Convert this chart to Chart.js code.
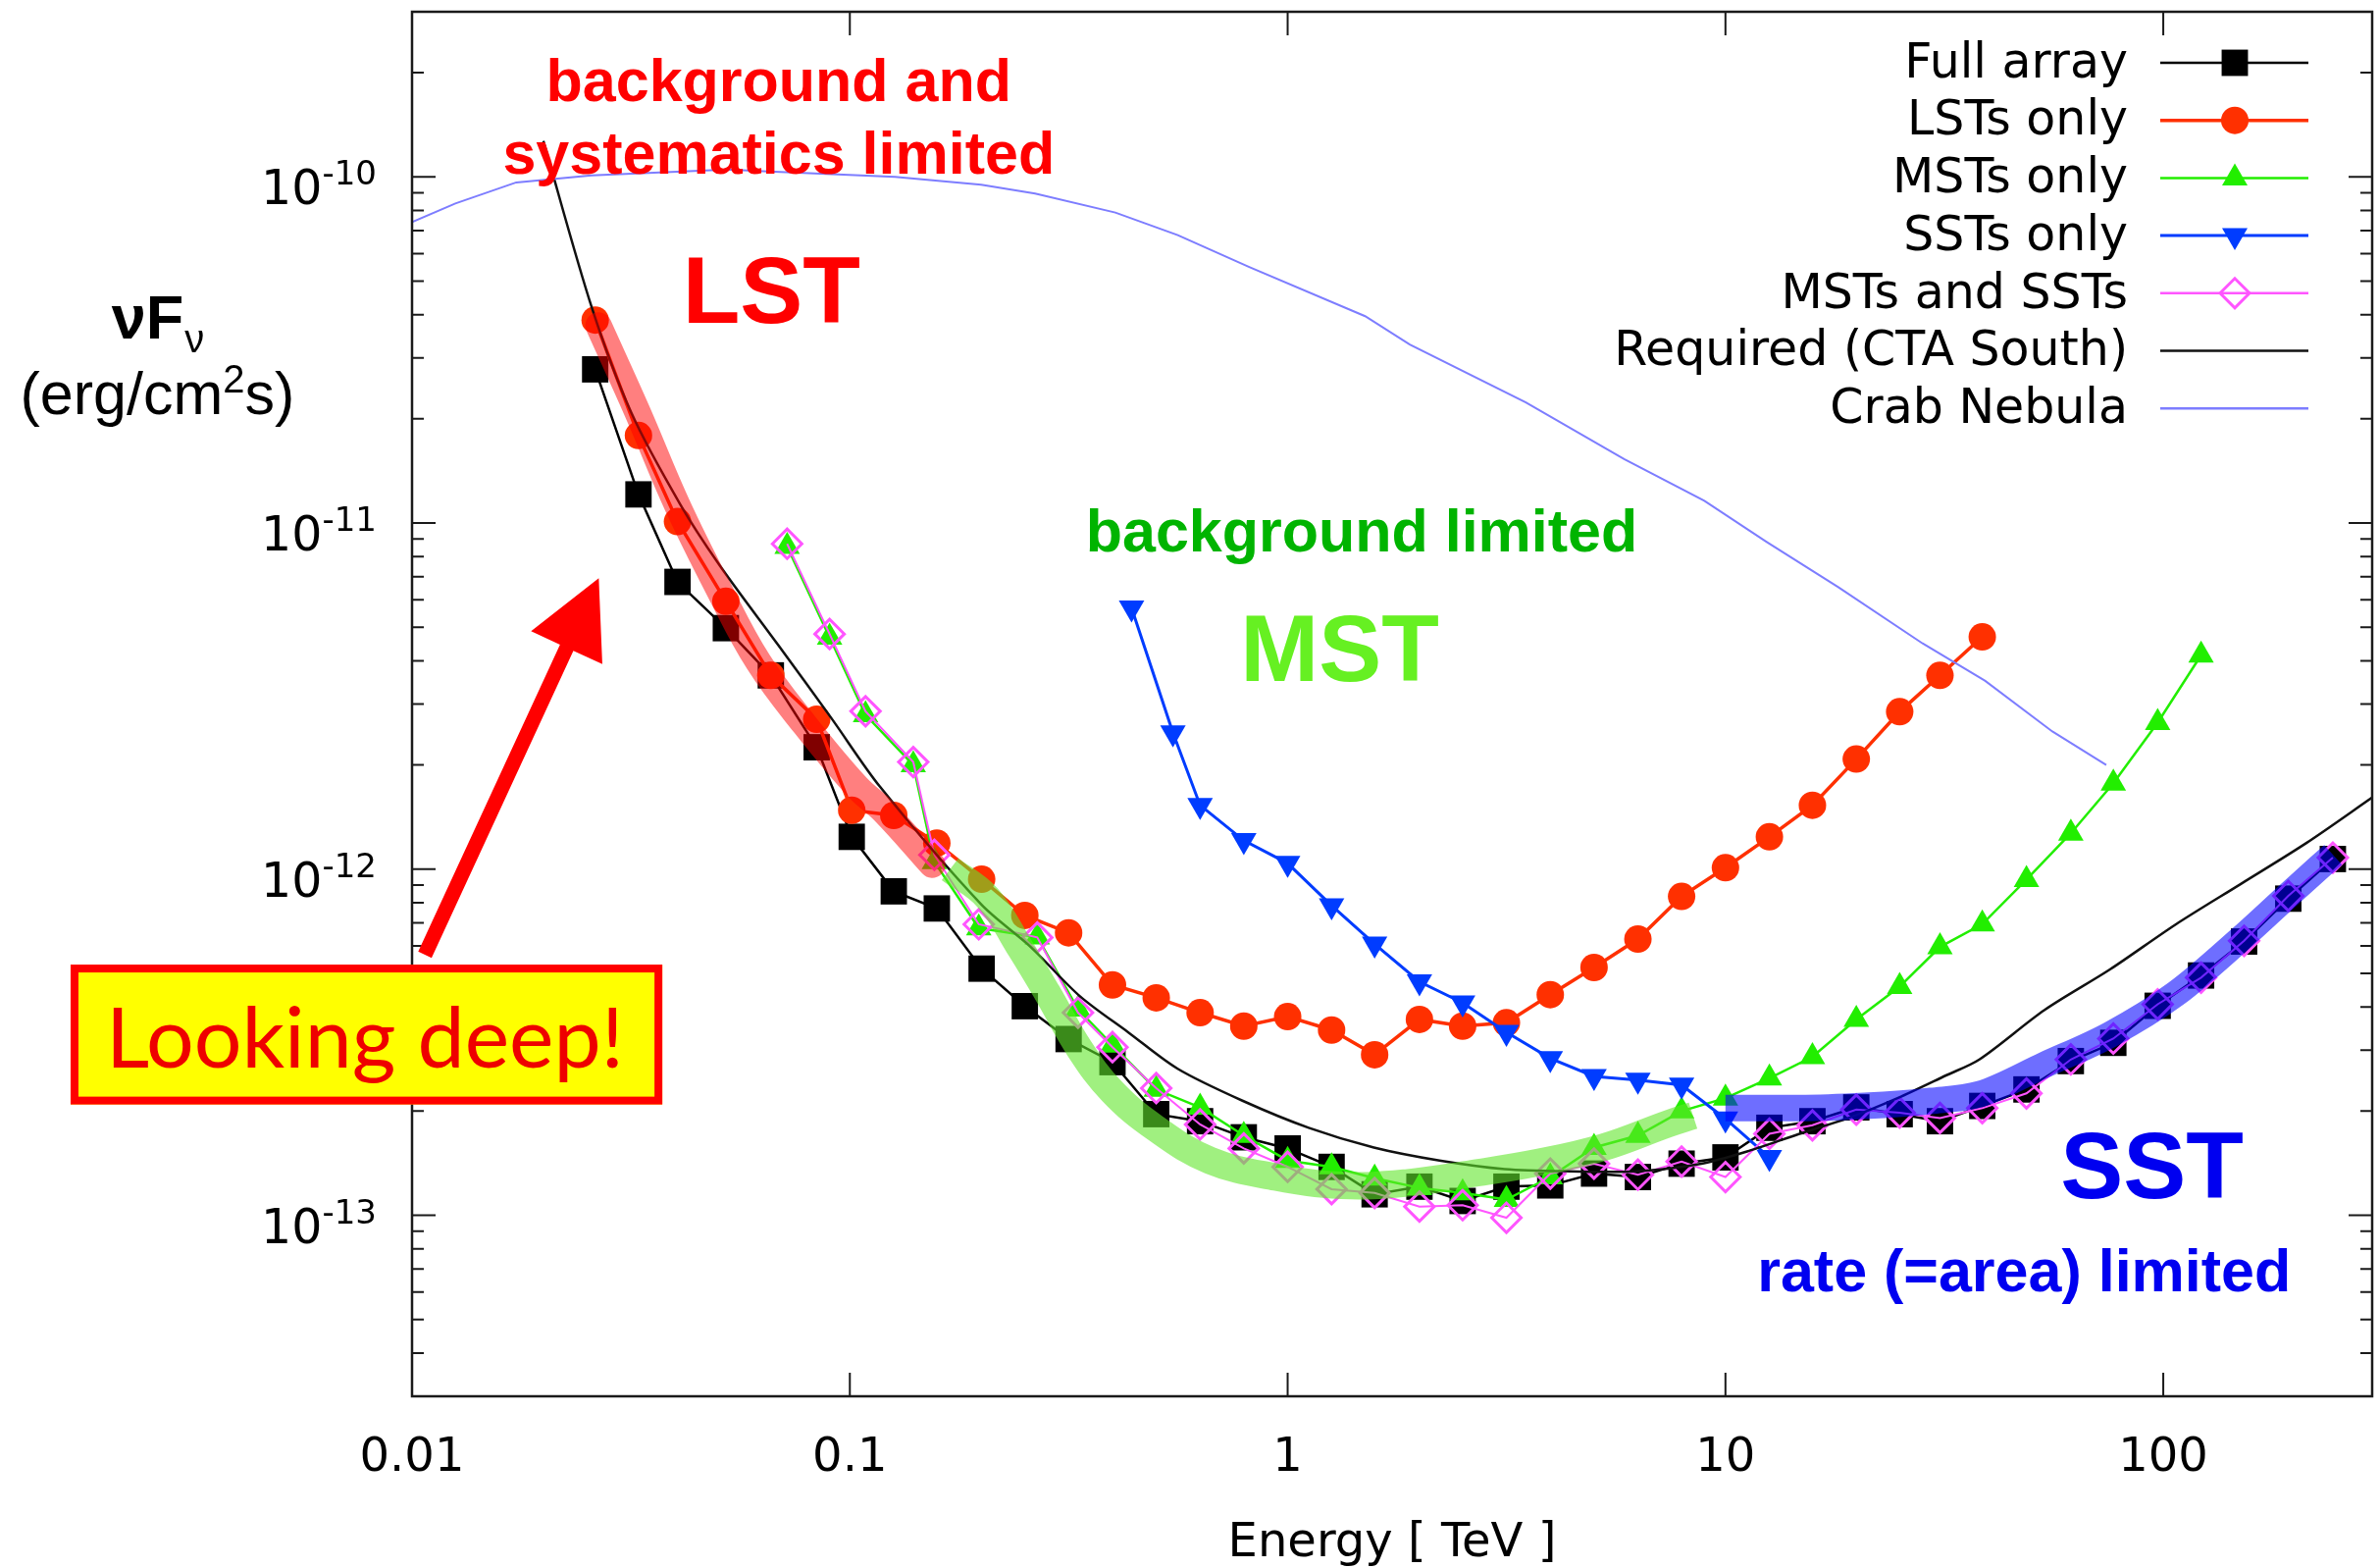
<!DOCTYPE html>
<html>
<head>
<meta charset="utf-8">
<style>
  html, body { margin: 0; padding: 0; background: #ffffff; }
  canvas { display: block; }
</style>
<script src="https://cdn.jsdelivr.net/npm/chart.js@4.4.1/dist/chart.umd.min.js"></script>
</head>
<body>
<canvas id="c" width="2426" height="1598"></canvas>
<script>
// ---------------- DATA ----------------
// Energies in TeV, fluxes nuFnu in erg/cm^2/s
const xMin = 0.01, xMax = 300;
const yMin = 3e-14, yMax = 3e-10;

const xTickValues = [0.01, 0.1, 1, 10, 100];
const xTickLabels = ['0.01', '0.1', '1', '10', '100'];
const yTickValues = [1e-13, 1e-12, 1e-11, 1e-10];
const yTickBase = ['10', '10', '10', '10'];
const yTickExponents = ['-13', '-12', '-11', '-10'];

const fullArrayE = [0.0262, 0.0329, 0.0404, 0.0521, 0.0660, 0.0840, 0.101, 0.126, 0.158, 0.200,
  0.251, 0.316, 0.398, 0.501, 0.631, 0.794, 1.00, 1.26, 1.58, 2.00,
  2.51, 3.16, 3.98, 5.01, 6.31, 7.94, 10.0, 12.6, 15.8, 19.9,
  25.0, 30.9, 38.6, 48.7, 61.5, 76.9, 97.1, 122, 153, 193, 244];
const fullArrayF = [2.78e-11, 1.21e-11, 6.76e-12, 4.97e-12, 3.63e-12, 2.25e-12, 1.24e-12, 8.63e-13, 7.7e-13, 5.16e-13,
  4.02e-13, 3.23e-13, 2.77e-13, 1.96e-13, 1.87e-13, 1.68e-13, 1.56e-13, 1.38e-13, 1.15e-13, 1.21e-13,
  1.10e-13, 1.21e-13, 1.22e-13, 1.32e-13, 1.29e-13, 1.41e-13, 1.47e-13, 1.79e-13, 1.87e-13, 2.05e-13,
  1.96e-13, 1.87e-13, 2.07e-13, 2.31e-13, 2.79e-13, 3.15e-13, 4.03e-13, 4.93e-13, 6.18e-13, 8.22e-13, 1.07e-12];

const lstE = [0.0262, 0.0329, 0.0404, 0.0521, 0.0660, 0.0840, 0.101, 0.126, 0.158, 0.200,
  0.251, 0.316, 0.398, 0.501, 0.631, 0.794, 1.00, 1.26, 1.58, 2.00,
  2.51, 3.16, 3.98, 5.01, 6.31, 7.94, 10.0, 12.6, 15.8, 19.9,
  25.0, 30.9, 38.6];
const lstF = [3.86e-11, 1.79e-11, 1.01e-11, 5.94e-12, 3.63e-12, 2.71e-12, 1.48e-12, 1.43e-12, 1.19e-12, 9.35e-13,
  7.35e-13, 6.55e-13, 4.63e-13, 4.25e-13, 3.85e-13, 3.52e-13, 3.75e-13, 3.43e-13, 2.91e-13, 3.68e-13,
  3.52e-13, 3.60e-13, 4.34e-13, 5.20e-13, 6.28e-13, 8.34e-13, 1.01e-12, 1.24e-12, 1.53e-12, 2.08e-12,
  2.85e-12, 3.63e-12, 4.69e-12];

const mstE = [0.0719, 0.0899, 0.1086, 0.1396, 0.156, 0.197, 0.268, 0.332,
  0.398, 0.501, 0.631, 0.794, 1.00, 1.26, 1.58, 2.00, 2.51, 3.16, 3.98, 5.01,
  6.31, 7.94, 10.0, 12.6, 15.8, 19.9, 25.0, 30.9, 38.6, 48.7, 61.5, 76.9, 97.1, 122];
const mstF = [8.55e-12, 4.68e-12, 2.79e-12, 2.0e-12, 1.05e-12, 6.76e-13, 6.37e-13, 3.94e-13,
  3.10e-13, 2.31e-13, 2.05e-13, 1.70e-13, 1.44e-13, 1.38e-13, 1.28e-13, 1.20e-13, 1.16e-13, 1.11e-13, 1.29e-13, 1.57e-13,
  1.70e-13, 2.0e-13, 2.18e-13, 2.49e-13, 2.87e-13, 3.68e-13, 4.58e-13, 5.96e-13, 6.94e-13, 9.33e-13, 1.27e-12, 1.77e-12, 2.65e-12, 4.15e-12];

const sstE = [0.440, 0.547, 0.631, 0.794, 1.00, 1.26, 1.58, 2.00, 2.51, 3.16, 3.98, 5.01, 6.31, 7.94, 10.0, 12.6];
const sstF = [5.69e-12, 2.48e-12, 1.53e-12, 1.21e-12, 1.04e-12, 7.85e-13, 6.08e-13, 4.73e-13,
  4.11e-13, 3.38e-13, 2.84e-13, 2.52e-13, 2.46e-13, 2.38e-13, 1.90e-13, 1.47e-13];

const mstSstE = [0.0719, 0.0899, 0.1086, 0.1396, 0.156, 0.197, 0.268, 0.332,
  0.398, 0.501, 0.631, 0.794, 1.00, 1.26, 1.58, 2.00, 2.51, 3.16, 3.98, 5.01,
  6.31, 7.94, 10.0, 12.6, 15.8, 19.9, 25.0, 30.9, 38.6, 48.7, 61.5, 76.9, 97.1, 122, 153, 193, 244];
const mstSstF = [8.71e-12, 4.78e-12, 2.86e-12, 2.04e-12, 1.10e-12, 6.93e-13, 6.35e-13, 3.85e-13,
  3.06e-13, 2.33e-13, 1.83e-13, 1.56e-13, 1.38e-13, 1.19e-13, 1.16e-13, 1.06e-13, 1.07e-13, 9.84e-14, 1.32e-13, 1.41e-13,
  1.31e-13, 1.43e-13, 1.29e-13, 1.72e-13, 1.82e-13, 2.02e-13, 1.98e-13, 1.91e-13, 2.04e-13, 2.25e-13,
  2.82e-13, 3.24e-13, 4.07e-13, 4.86e-13, 6.21e-13, 8.37e-13, 1.08e-12];

const requiredE = [0.01995, 0.02576, 0.0317, 0.04102, 0.05035, 0.06871, 0.09057, 0.1172, 0.1995, 0.2588,
  0.335, 0.4335, 0.561, 0.7907, 1.117, 1.574, 2.223, 3.133, 4.426, 6.237,
  8.81, 11.4, 14.76, 19.1, 24.72, 31.99, 38.02, 53.58, 75.68, 106.7, 150.7, 212.3, 299.9];
const requiredF = [1.27e-10, 4.18e-11, 2.08e-11, 1.13e-11, 7.57e-12, 4.43e-12, 2.74e-12, 1.73e-12, 7.91e-13, 5.96e-13,
  4.30e-13, 3.37e-13, 2.65e-13, 2.14e-13, 1.79e-13, 1.57e-13, 1.44e-13, 1.36e-13, 1.34e-13, 1.34e-13,
  1.41e-13, 1.54e-13, 1.72e-13, 1.91e-13, 2.18e-13, 2.54e-13, 2.82e-13, 3.92e-13, 5.14e-13, 6.92e-13, 9.08e-13, 1.19e-12, 1.61e-12];

const crabE = [0.01, 0.01256, 0.0173, 0.0257, 0.0527, 0.0615, 0.1268, 0.1995, 0.265, 0.404,
  0.561, 0.817, 1.503, 1.901, 3.50, 5.87, 8.95, 12.4, 18.1, 28.2, 39.2, 55.8, 74.1];
const crabF = [7.41e-11, 8.38e-11, 9.64e-11, 1.01e-10, 1.05e-10, 1.04e-10, 1.0e-10, 9.5e-11, 8.95e-11, 7.89e-11,
  6.79e-11, 5.49e-11, 3.96e-11, 3.28e-11, 2.23e-11, 1.53e-11, 1.16e-11, 8.83e-12, 6.53e-12, 4.49e-12, 3.50e-12, 2.50e-12, 2.0e-12];

// highlight bands (slide overlays)
const lstBandE = [0.02667, 0.0328, 0.0403, 0.0503, 0.0618, 0.0788, 0.1038, 0.1197, 0.1542];
const lstBandF = [3.72e-11, 2.08e-11, 1.13e-11, 6.41e-12, 3.97e-12, 2.62e-12, 1.73e-12, 1.47e-12, 1.03e-12];
const mstBandE = [0.1694, 0.2061, 0.2455, 0.2825, 0.335, 0.3972, 0.4977, 0.6653, 0.9397, 1.327, 1.866, 2.642, 3.733, 5.248, 7.413, 8.433];
const mstBandF = [1.0e-12, 8.28e-13, 5.89e-13, 4.39e-13, 3.02e-13, 2.28e-13, 1.79e-13, 1.44e-13, 1.29e-13, 1.22e-13, 1.24e-13, 1.32e-13, 1.42e-13, 1.57e-13, 1.84e-13, 1.94e-13];
const sstBandE = [10.0, 14.72, 20.8, 29.44, 38.11, 53.58, 75.68, 106.9, 150.3, 194.5, 244.3];
const sstBandF = [2.04e-13, 2.04e-13, 2.07e-13, 2.14e-13, 2.24e-13, 2.72e-13, 3.33e-13, 4.37e-13, 6.30e-13, 8.49e-13, 1.10e-12];

// text annotations (anchored in data coordinates: E, F = centre x, baseline y)
const notes = [
  { text: 'background and', E: 0.0688, F: 1.66e-10, color: '#ff0000', font: 'bold 61px "Liberation Sans"' },
  { text: 'systematics limited', E: 0.0688, F: 1.02e-10, color: '#ff0000', font: 'bold 61px "Liberation Sans"' },
  { text: 'LST', E: 0.0662, F: 3.80e-11, color: '#ff0000', font: 'bold 96px "Liberation Sans"' },
  { text: 'background limited', E: 1.476, F: 8.28e-12, color: '#00b400', font: 'bold 61px "Liberation Sans"' },
  { text: 'MST', E: 1.315, F: 3.49e-12, color: '#66f022', font: 'bold 96px "Liberation Sans"' },
  { text: 'SST', E: 94.2, F: 1.12e-13, color: '#0000f0', font: 'bold 96px "Liberation Sans"' },
  { text: 'rate (=area) limited', E: 48.1, F: 6.04e-14, color: '#0000f0', font: 'bold 61px "Liberation Sans"' }
];
const deepBox = { text: 'Looking deep!', E0: 0.00166, E1: 0.0373, F0: 5.30e-13, F1: 2.09e-13, textE: 0.0078, textF: 2.68e-13 };
const deepArrow = { E0: 0.0107, F0: 5.66e-13, E1: 0.0267, F1: 6.93e-12 };
const yTitle = { E: 0.00262, F1: 3.42e-11, F2: 2.07e-11 };

// ---------------- helpers ----------------
function pts(E, F) { return E.map((e, i) => ({ x: e, y: F[i] })); }
function isMajor(v) { const l = Math.log10(v); return Math.abs(l - Math.round(l)) < 1e-6; }
function logTicks(min, max) {
  const out = [];
  const d0 = Math.floor(Math.log10(min)), d1 = Math.ceil(Math.log10(max));
  for (let d = d0; d <= d1; d++) {
    for (let m = 1; m <= 9; m++) {
      const v = parseFloat((m * Math.pow(10, d)).toPrecision(6));
      if (v >= min * 0.9999 && v <= max * 1.0001) out.push({ value: v, major: m === 1 });
    }
  }
  return out;
}
function labelFor(v, values, labels) {
  for (let i = 0; i < values.length; i++) {
    if (Math.abs(Math.log10(v) - Math.log10(values[i])) < 1e-6) return labels[i];
  }
  return null;
}

function drawMarker(ctx, style, x, y, r, rot, fill, stroke, lw) {
  ctx.save();
  ctx.beginPath();
  if (style === 'circle') {
    ctx.arc(x, y, r, 0, Math.PI * 2);
  } else if (style === 'rect') {
    const s = r * Math.SQRT1_2;
    ctx.rect(x - s, y - s, 2 * s, 2 * s);
  } else if (style === 'rectRot') {
    ctx.moveTo(x - r, y); ctx.lineTo(x, y - r); ctx.lineTo(x + r, y); ctx.lineTo(x, y + r); ctx.closePath();
  } else if (style === 'triangle') {
    let a = (rot || 0) * Math.PI / 180;
    ctx.moveTo(x + Math.sin(a) * r, y - Math.cos(a) * r);
    a += 2 * Math.PI / 3; ctx.lineTo(x + Math.sin(a) * r, y - Math.cos(a) * r);
    a += 2 * Math.PI / 3; ctx.lineTo(x + Math.sin(a) * r, y - Math.cos(a) * r);
    ctx.closePath();
  }
  if (fill) { ctx.fillStyle = fill; ctx.fill(); }
  if (stroke && lw) { ctx.strokeStyle = stroke; ctx.lineWidth = lw; ctx.stroke(); }
  ctx.restore();
}

function drawArrow(ctx, x0, y0, x1, y1, shaftW, headL, headW, color) {
  const dx = x1 - x0, dy = y1 - y0, len = Math.hypot(dx, dy);
  const ux = dx / len, uy = dy / len, nx = -uy, ny = ux;
  const bx = x1 - ux * headL, by = y1 - uy * headL;
  ctx.save();
  ctx.fillStyle = color;
  ctx.beginPath();
  ctx.moveTo(x0 + nx * shaftW / 2, y0 + ny * shaftW / 2);
  ctx.lineTo(bx + nx * shaftW / 2, by + ny * shaftW / 2);
  ctx.lineTo(bx + nx * headW / 2, by + ny * headW / 2);
  ctx.lineTo(x1, y1);
  ctx.lineTo(bx - nx * headW / 2, by - ny * headW / 2);
  ctx.lineTo(bx - nx * shaftW / 2, by - ny * shaftW / 2);
  ctx.lineTo(x0 - nx * shaftW / 2, y0 - ny * shaftW / 2);
  ctx.closePath();
  ctx.fill();
  ctx.restore();
}

// ---------------- plugins ----------------
const whiteBg = {
  id: 'whiteBg',
  beforeDraw(chart) {
    const c = chart.ctx;
    c.save(); c.fillStyle = '#ffffff'; c.fillRect(0, 0, chart.width, chart.height); c.restore();
  }
};

const frameTicks = {
  id: 'frameTicks',
  afterDatasetsDraw(chart) {
    const { ctx: c, chartArea: a, scales: { x, y } } = chart;
    c.save();
    c.strokeStyle = '#1a1a1a';
    c.lineWidth = 2;
    c.beginPath();
    x.ticks.forEach(t => {
      const px = x.getPixelForValue(t.value);
      const L = isMajor(t.value) ? 24 : 12;
      c.moveTo(px, a.bottom); c.lineTo(px, a.bottom - L);
      c.moveTo(px, a.top); c.lineTo(px, a.top + L);
    });
    y.ticks.forEach(t => {
      const py = y.getPixelForValue(t.value);
      const L = isMajor(t.value) ? 24 : 12;
      c.moveTo(a.left, py); c.lineTo(a.left + L, py);
      c.moveTo(a.right, py); c.lineTo(a.right - L, py);
    });
    c.stroke();
    c.lineWidth = 2.5;
    c.strokeRect(a.left, a.top, a.right - a.left, a.bottom - a.top);
    // y tick labels: 10 with superscript exponent
    c.fillStyle = '#000';
    c.textBaseline = 'alphabetic';
    c.textAlign = 'left';
    yTickValues.forEach((v, i) => {
      const py = y.getPixelForValue(v);
      c.font = '34px "DejaVu Sans"';
      const we = c.measureText(yTickExponents[i]).width;
      c.font = '49px "DejaVu Sans"';
      const wb = c.measureText(yTickBase[i]).width;
      const right = a.left - 36;
      const x0 = right - we - wb;
      c.fillText(yTickBase[i], x0, py + 28);
      c.font = '34px "DejaVu Sans"';
      c.fillText(yTickExponents[i], x0 + wb, py + 8);
    });
    c.restore();
  }
};

const annotations = {
  id: 'annotations',
  afterDraw(chart) {
    const { ctx: c, scales: { x, y } } = chart;
    c.save();
    c.textAlign = 'center';
    c.textBaseline = 'alphabetic';
    notes.forEach(n => {
      c.font = n.font;
      c.fillStyle = n.color;
      c.fillText(n.text, x.getPixelForValue(n.E), y.getPixelForValue(n.F));
    });
    drawArrow(c, x.getPixelForValue(deepArrow.E0), y.getPixelForValue(deepArrow.F0),
      x.getPixelForValue(deepArrow.E1), y.getPixelForValue(deepArrow.F1), 15, 78, 80, '#ff0000');
    const bx0 = x.getPixelForValue(deepBox.E0), bx1 = x.getPixelForValue(deepBox.E1);
    const by0 = y.getPixelForValue(deepBox.F0), by1 = y.getPixelForValue(deepBox.F1);
    c.fillStyle = '#ffff00';
    c.fillRect(bx0, by0, bx1 - bx0, by1 - by0);
    c.strokeStyle = '#ff0000';
    c.lineWidth = 8;
    c.strokeRect(bx0 + 4, by0 + 4, bx1 - bx0 - 8, by1 - by0 - 8);
    c.font = '86px Lato';
    c.fillStyle = '#ee0000';
    c.fillText(deepBox.text, x.getPixelForValue(deepBox.textE), y.getPixelForValue(deepBox.textF));
    // y-axis title
    const cx = x.getPixelForValue(yTitle.E);
    const b1 = y.getPixelForValue(yTitle.F1);
    const b2 = y.getPixelForValue(yTitle.F2);
    c.textAlign = 'left';
    c.fillStyle = '#000';
    c.font = 'bold 63px "Liberation Sans"';
    const wMain = c.measureText('\u03BDF').width;
    c.font = '40px "Liberation Sans"';
    const wSub = c.measureText('\u03BD').width;
    let sx = cx - (wMain + wSub) / 2;
    c.font = 'bold 63px "Liberation Sans"';
    c.fillText('\u03BDF', sx, b1);
    c.font = '40px "Liberation Sans"';
    c.fillText('\u03BD', sx + wMain + 1, b1 + 14);
    c.font = '61px "Liberation Sans"';
    const w1 = c.measureText('(erg/cm').width;
    const w3 = c.measureText('s)').width;
    c.font = '40px "Liberation Sans"';
    const w2 = c.measureText('2').width;
    sx = cx - (w1 + w2 + w3) / 2;
    c.font = '61px "Liberation Sans"';
    c.fillText('(erg/cm', sx, b2);
    c.font = '40px "Liberation Sans"';
    c.fillText('2', sx + w1, b2 - 22);
    c.font = '61px "Liberation Sans"';
    c.fillText('s)', sx + w1 + w2, b2);
    c.restore();
  }
};

const legendOrder = ['Full array', 'LSTs only', 'MSTs only', 'SSTs only', 'MSTs and SSTs', 'Required (CTA South)', 'Crab Nebula'];
const innerLegend = {
  id: 'innerLegend',
  afterDraw(chart) {
    const { ctx: c, chartArea: a } = chart;
    const textRight = a.right - 249;
    const lineX0 = a.right - 216, lineX1 = a.right - 65, markX = a.right - 140;
    const row0 = a.top + 52, step = 58.7;
    c.save();
    c.font = '49px "DejaVu Sans"';
    c.textAlign = 'right';
    c.textBaseline = 'middle';
    legendOrder.forEach((name, i) => {
      const ds = chart.data.datasets.find(d => d.label === name);
      const yy = row0 + i * step;
      c.fillStyle = '#000';
      c.fillText(name, textRight, yy + 2);
      c.strokeStyle = ds.borderColor;
      c.lineWidth = Math.max(ds.borderWidth, 2.5);
      c.beginPath(); c.moveTo(lineX0, yy); c.lineTo(lineX1, yy); c.stroke();
      if (ds.pointRadius > 0) {
        drawMarker(c, ds.pointStyle, markX, yy, ds.pointRadius, ds.pointRotation || 0,
          ds.pointBackgroundColor, ds.pointBorderColor, ds.pointBorderWidth);
      }
    });
    c.restore();
  }
};

// ---------------- chart ----------------
const baseLine = { fill: false, tension: 0, spanGaps: true };
new Chart(document.getElementById('c'), {
  type: 'line',
  data: {
    datasets: [
      Object.assign({}, baseLine, { label: 'Full array', data: pts(fullArrayE, fullArrayF), order: 9,
        borderColor: '#000000', borderWidth: 2.5, pointStyle: 'rect', pointRadius: 19,
        pointBackgroundColor: '#000000', pointBorderColor: '#000000', pointBorderWidth: 0 }),
      Object.assign({}, baseLine, { label: 'LSTs only', data: pts(lstE, lstF), order: 8,
        borderColor: '#ff3000', borderWidth: 3.5, pointStyle: 'circle', pointRadius: 14,
        pointBackgroundColor: '#ff3000', pointBorderColor: '#ff3000', pointBorderWidth: 0 }),
      Object.assign({}, baseLine, { label: 'MSTs only', data: pts(mstE, mstF), order: 7,
        borderColor: '#22ee00', borderWidth: 2.5, pointStyle: 'triangle', pointRadius: 15,
        pointBackgroundColor: '#22ee00', pointBorderColor: '#22ee00', pointBorderWidth: 0 }),
      Object.assign({}, baseLine, { label: 'SSTs only', data: pts(sstE, sstF), order: 6,
        borderColor: '#003cff', borderWidth: 3, pointStyle: 'triangle', pointRotation: 180, pointRadius: 15,
        pointBackgroundColor: '#003cff', pointBorderColor: '#003cff', pointBorderWidth: 0 }),
      Object.assign({}, baseLine, { label: 'MSTs and SSTs', data: pts(mstSstE, mstSstF), order: 5,
        borderColor: '#ff55ff', borderWidth: 2, pointStyle: 'rectRot', pointRadius: 15,
        pointBackgroundColor: 'rgba(0,0,0,0)', pointBorderColor: '#ff55ff', pointBorderWidth: 3 }),
      Object.assign({}, baseLine, { label: 'Required (CTA South)', data: pts(requiredE, requiredF), order: 4,
        borderColor: '#111111', borderWidth: 2.5, pointRadius: 0, tension: 0.3 }),
      Object.assign({}, baseLine, { label: 'Crab Nebula', data: pts(crabE, crabF), order: 3,
        borderColor: '#7d7dff', borderWidth: 2, pointRadius: 0 }),
      Object.assign({}, baseLine, { label: 'LST band', data: pts(lstBandE, lstBandF), order: 2,
        borderColor: 'rgba(255,0,0,0.5)', borderWidth: 27, pointRadius: 0, tension: 0.4,
        borderCapStyle: 'round', borderJoinStyle: 'round' }),
      Object.assign({}, baseLine, { label: 'MST band', data: pts(mstBandE, mstBandF), order: 1,
        borderColor: 'rgba(97,230,43,0.6)', borderWidth: 28, pointRadius: 0, tension: 0.4,
        borderCapStyle: 'butt', borderJoinStyle: 'round' }),
      Object.assign({}, baseLine, { label: 'SST band', data: pts(sstBandE, sstBandF), order: 0,
        borderColor: 'rgba(0,0,255,0.57)', borderWidth: 27, pointRadius: 0, tension: 0.4,
        cubicInterpolationMode: 'monotone', borderCapStyle: 'butt', borderJoinStyle: 'round' })
    ]
  },
  options: {
    responsive: false,
    devicePixelRatio: 1,
    animation: false,
    events: [],
    layout: { autoPadding: false, padding: { top: 12, right: 8, left: 0, bottom: 0 } },
    plugins: { legend: { display: false }, tooltip: { enabled: false }, title: { display: false } },
    scales: {
      x: {
        type: 'logarithmic', min: xMin, max: xMax, bounds: 'data',
        afterBuildTicks: s => { s.ticks = logTicks(s.min, s.max); },
        afterFit: s => { s.height = 175; s.paddingLeft = 0; s.paddingRight = 0; },
        grid: { display: false, drawTicks: false },
        border: { display: false },
        ticks: {
          autoSkip: false, maxRotation: 0, minRotation: 0, padding: 35, color: '#000000',
          font: { family: 'DejaVu Sans', size: 48 },
          callback: v => labelFor(v, xTickValues, xTickLabels)
        },
        title: { display: true, text: 'Energy [ TeV ]', color: '#000000',
          font: { family: 'DejaVu Sans', size: 48, lineHeight: 1.0 }, padding: { top: 0, bottom: 0 } }
      },
      y: {
        type: 'logarithmic', min: yMin, max: yMax, bounds: 'data',
        afterBuildTicks: s => { s.ticks = logTicks(s.min, s.max); },
        afterFit: s => { s.width = 420; s.paddingTop = 0; s.paddingBottom = 0; },
        grid: { display: false, drawTicks: false },
        border: { display: false },
        ticks: { display: false }
      }
    }
  },
  plugins: [whiteBg, frameTicks, annotations, innerLegend]
});
</script>
</body>
</html>
